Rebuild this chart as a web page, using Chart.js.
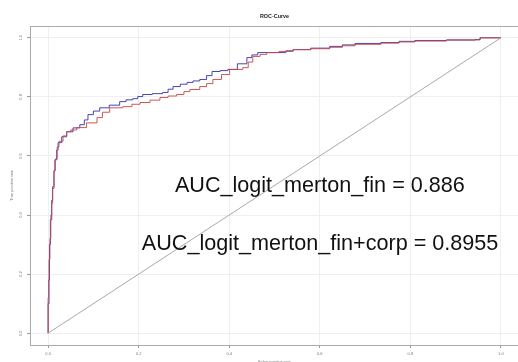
<!DOCTYPE html>
<html>
<head>
<meta charset="utf-8">
<script src="https://cdn.jsdelivr.net/npm/chart.js@4.4.1/dist/chart.umd.min.js"></script>
<style>
  html, body { margin: 0; padding: 0; background: #fff; overflow: hidden; }
  canvas { display: block; }
</style>
</head>
<body>
<canvas id="c" width="520" height="362"></canvas>
<script>
// ---- data ----
const chartTitle = 'ROC-Curve';
const xAxisTitle = 'False positive rate';
const yAxisTitle = 'True positive rate';
const tickValues = [0, 0.2, 0.4, 0.6, 0.8, 1.0];

const fprFinCorp = [0,0.000,0.002,0.003,0.005,0.008,0.010,0.013,0.015,0.019,0.022,0.030,0.041,0.055,0.070,0.080,0.088,0.100,0.114,0.135,0.158,0.172,0.187,0.198,0.209,0.230,0.253,0.265,0.276,0.292,0.307,0.320,0.335,0.350,0.362,0.380,0.397,0.418,0.439,0.450,0.463,0.505,0.525,0.541,0.580,0.622,0.650,0.678,0.735,0.775,0.810,0.880,0.943,0.954,1];
const tprFinCorp = [0,0.100,0.180,0.300,0.384,0.450,0.496,0.550,0.587,0.620,0.645,0.665,0.682,0.695,0.706,0.722,0.740,0.752,0.763,0.772,0.784,0.790,0.794,0.801,0.808,0.811,0.815,0.826,0.835,0.843,0.849,0.854,0.859,0.872,0.886,0.889,0.893,0.912,0.933,0.942,0.950,0.950,0.956,0.960,0.965,0.971,0.976,0.981,0.984,0.988,0.991,0.993,0.994,1.0,1];

const fprFin = [0,0.000,0.001,0.002,0.004,0.006,0.008,0.010,0.013,0.016,0.020,0.024,0.033,0.041,0.050,0.063,0.085,0.108,0.120,0.136,0.165,0.185,0.203,0.225,0.247,0.265,0.284,0.300,0.313,0.335,0.350,0.364,0.383,0.401,0.430,0.442,0.452,0.468,0.483,0.510,0.541,0.580,0.622,0.650,0.678,0.735,0.775,0.810,0.880,0.943,0.954,1];
const tprFin = [0,0.120,0.180,0.250,0.320,0.400,0.440,0.490,0.550,0.590,0.630,0.650,0.668,0.682,0.688,0.696,0.712,0.730,0.748,0.763,0.767,0.775,0.781,0.789,0.798,0.803,0.808,0.818,0.825,0.835,0.845,0.859,0.876,0.893,0.899,0.918,0.937,0.944,0.950,0.954,0.960,0.963,0.968,0.973,0.978,0.982,0.986,0.989,0.992,0.993,1.0,1];

const diagX = [0, 1];
const diagY = [0, 1];

const aucLabels = ['AUC_logit_merton_fin = 0.886', 'AUC_logit_merton_fin+corp = 0.8955'];

// ---- helpers ----
const toPts = (xs, ys) => xs.map((x, i) => ({x: x, y: ys[i]}));
const FONT = "'Liberation Sans', Arial, sans-serif";

const boxAndText = {
  id: 'boxAndText',
  afterDatasetsDraw(chart) {
    const {ctx, scales: {x, y}} = chart;
    ctx.save();
    ctx.fillStyle = '#111';
    ctx.font = '21.6px ' + FONT;
    ctx.textAlign = 'left';
    ctx.textBaseline = 'alphabetic';
    const anchors = [[0.28, 0.479], [0.207, 0.282]];
    aucLabels.forEach((t, i) => {
      ctx.fillText(t, x.getPixelForValue(anchors[i][0]), y.getPixelForValue(anchors[i][1]));
    });
    ctx.restore();
  }
};

const setTicks = (scale) => { scale.ticks = tickValues.map(v => ({value: v})); };

new Chart(document.getElementById('c'), {
  type: 'line',
  data: {
    datasets: [
      {
        label: 'diag',
        data: toPts(diagX, diagY),
        borderColor: '#a8a8a8',
        borderWidth: 1,
        pointRadius: 0,
        tension: 0
      },
      {
        label: 'fin',
        data: toPts(fprFin, tprFin),
        borderColor: 'rgba(200,70,70,0.9)',
        borderWidth: 1,
        pointRadius: 0,
        stepped: true,
        tension: 0
      },
      {
        label: 'fin+corp',
        data: toPts(fprFinCorp, tprFinCorp),
        borderColor: 'rgba(50,50,165,0.9)',
        borderWidth: 1,
        pointRadius: 0,
        stepped: true,
        tension: 0
      }
    ]
  },
  options: {
    responsive: false,
    devicePixelRatio: 1,
    animation: false,
    layout: { padding: { left: 0, right: 1, top: 0, bottom: 0 } },
    plugins: {
      legend: { display: false },
      tooltip: { enabled: false },
      title: { display: false }
    },
    scales: {
      x: {
        type: 'linear',
        position: 'bottom',
        min: -0.04, max: 1.04,
        afterBuildTicks: setTicks,
        afterFit: (s) => { s.height = 17; },
        grid: { color: '#efefef', tickColor: '#999', tickLength: 3, drawTicks: true },
        border: { color: '#aaa', width: 1 },
        ticks: {
          font: { family: FONT, size: 4 }, color: '#777', padding: 3,
          maxRotation: 0, minRotation: 0, autoSkip: false,
          callback: (v) => Number(v).toFixed(1)
        },
        title: { display: true, text: xAxisTitle, font: { family: FONT, size: 4 }, color: '#777', padding: { top: 0, bottom: -2.5 } }
      },
      xTop: {
        type: 'linear',
        position: 'top',
        min: -0.04, max: 1.04,
        afterFit: (s) => { s.height = 26; },
        grid: { display: false, drawOnChartArea: false, drawTicks: false },
        border: { display: true, color: '#aaa', width: 1 },
        ticks: { display: false },
        title: { display: true, text: chartTitle, font: { family: FONT, size: 5.4, weight: 'bold' }, color: '#222', padding: { top: 12.8, bottom: 0 } }
      },
      y: {
        type: 'linear',
        position: 'left',
        min: -0.04, max: 1.04,
        afterBuildTicks: setTicks,
        afterFit: (s) => { s.width = 30; },
        grid: { color: '#efefef', tickColor: '#999', tickLength: 3, drawTicks: true },
        border: { color: '#aaa', width: 1 },
        ticks: {
          font: { family: FONT, size: 4 }, color: '#777', padding: 3,
          minRotation: 90, maxRotation: 90, crossAlign: 'center', autoSkip: false,
          callback: (v) => Number(v).toFixed(1)
        },
        title: { display: true, text: yAxisTitle, font: { family: FONT, size: 4 }, color: '#777', padding: { top: 9.6, bottom: 0 } }
      }
    }
  },
  plugins: [boxAndText]
});
</script>
</body>
</html>
